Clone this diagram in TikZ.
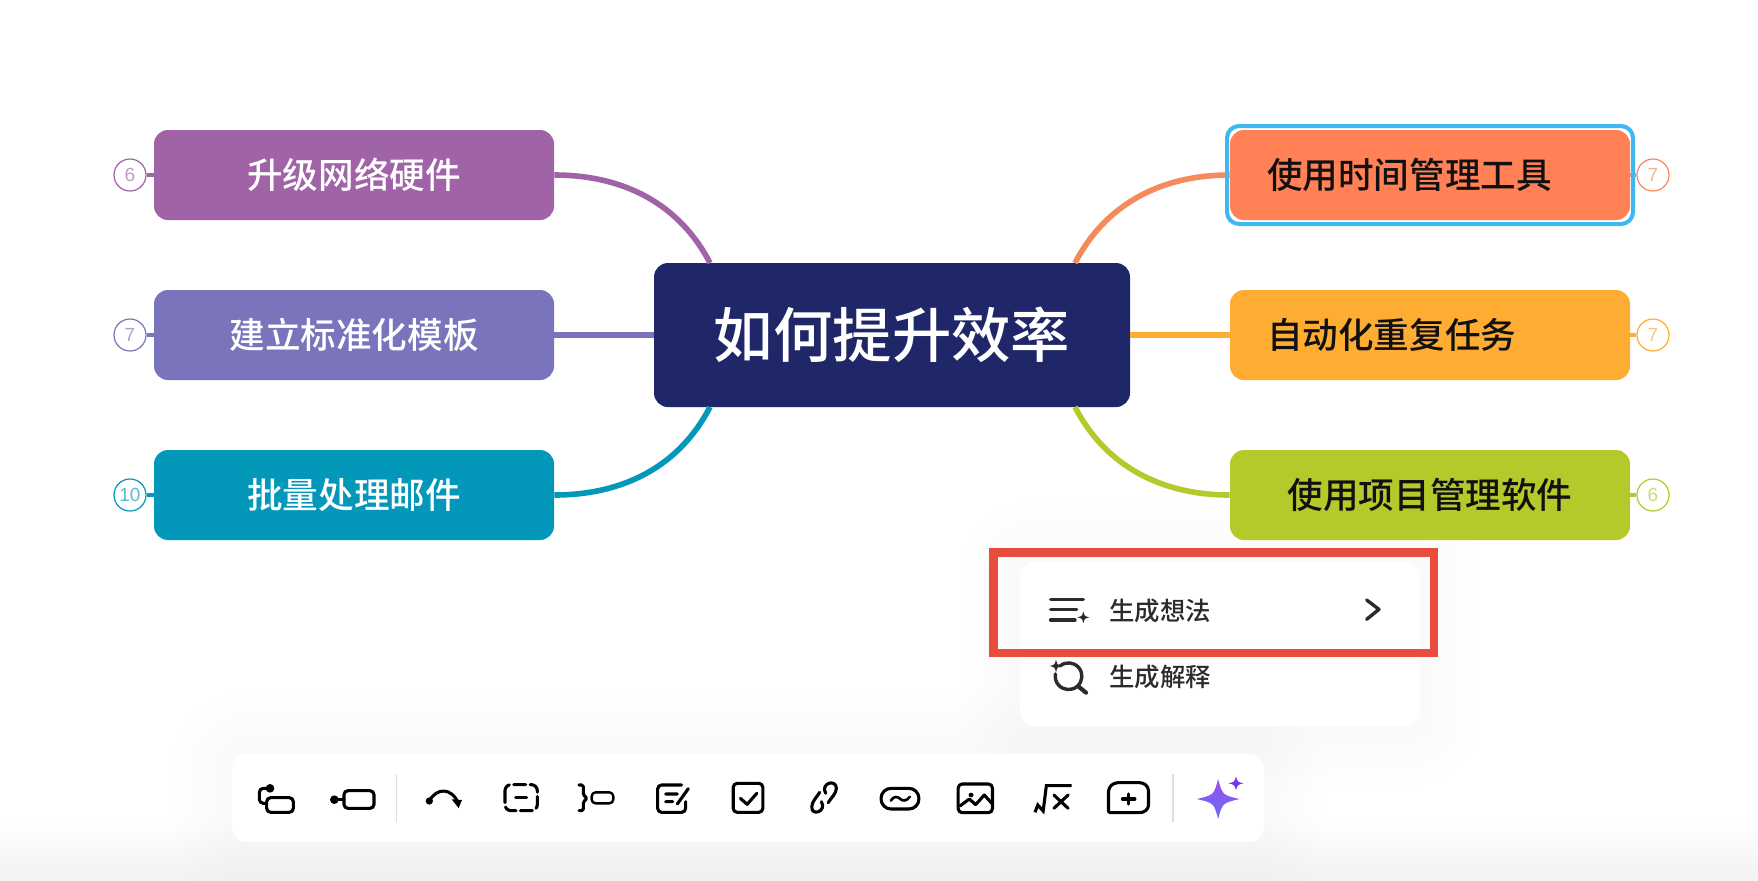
\documentclass[tikz,border=0pt]{standalone}
\usepackage{fontspec}
\setmainfont{Noto Sans CJK SC Medium}
\newfontfamily\menufont{Noto Sans CJK SC Medium}
\newfontfamily\numfont{Liberation Sans}
\definecolor{cPurple}{HTML}{A163A8}
\definecolor{cIndigo}{HTML}{7A74BC}
\definecolor{cTeal}{HTML}{0398BA}
\definecolor{cOrange}{HTML}{FF8155}
\definecolor{cBranchO}{HTML}{F58A5C}
\definecolor{cAmber}{HTML}{FFAC33}
\definecolor{cLime}{HTML}{B5C92B}
\definecolor{cNavy}{HTML}{1F2768}
\definecolor{cSel}{HTML}{3DB8F0}
\definecolor{cRed}{HTML}{E74C3C}
\definecolor{cInk}{HTML}{111111}
\definecolor{cMenu}{HTML}{2B2B2B}
\definecolor{cSep}{HTML}{DEDEDE}
\definecolor{cStarT}{HTML}{9B4DF0}
\definecolor{cStarB}{HTML}{6A6EF5}
\definecolor{cStarS}{HTML}{7038F0}
\newcommand{\starpath}[3]{(#1,#2-#3) .. controls (#1+0.2*#3,#2-0.2*#3) .. (#1+#3,#2) .. controls (#1+0.2*#3,#2+0.2*#3) .. (#1,#2+#3) .. controls (#1-0.2*#3,#2+0.2*#3) .. (#1-#3,#2) .. controls (#1-0.2*#3,#2-0.2*#3) .. cycle}
\newcommand{\softshadow}[4]{%
  \foreach \i in {1,...,5}{
    \fill[black,opacity=0.004,rounded corners={(7+6*\i)*1pt}]
      (#1-12*\i,#2-12*\i) rectangle (#3+12*\i,#4+12*\i);
  }}
\tikzset{
  topic/.style={rounded corners=7pt,minimum width=200pt,minimum height=45pt,inner sep=0pt,font=\fontsize{17.8}{20}\selectfont,text=white},
  lefttopic/.style={topic,align=center},
  righttopic/.style={topic,text=cInk,text width=163pt,inner xsep=18.5pt,inner ysep=0pt},
  rootnode/.style={rounded corners=7pt,fill=cNavy,minimum width=238pt,minimum height=72pt,inner sep=0pt,text=white,font=\fontsize{29.7}{32}\selectfont},
  badge/.style={circle,draw=#1,fill=white,line width=0.6pt,minimum size=16pt,inner sep=0pt,text=#1!65!white,font=\numfont\fontsize{9.5}{10}\selectfont},
  branch/.style={line width=2.8pt,line cap=butt},
  stub/.style={line width=1.6pt},
  panel/.style={fill=white,rounded corners=7pt,inner sep=0pt},
  menutext/.style={text=cMenu,font=\menufont\fontsize{12.7}{14}\selectfont,anchor=west,inner sep=0pt},
  ic/.style={line width=1.55pt,line cap=round,line join=round,draw=black},
  micon/.style={line width=1.7pt,line cap=round,line join=round,draw=cMenu},
  sepline/.style={draw=cSep,line width=0.8pt}
}
\begin{document}
\begin{tikzpicture}[x=0.5pt,y=-0.5pt]
\useasboundingbox (0,0) rectangle (1758,880);
\fill[white] (0,0) rectangle (1758,880);
\shade[top color=white,bottom color=black!5] (0,820) rectangle (1758,880);

\coordinate (tl) at (710,263);
\coordinate (ml) at (654,335);
\coordinate (bl) at (710,407);
\coordinate (tr) at (1075,263);
\coordinate (mr) at (1130,335);
\coordinate (br) at (1075,407);

% shadows first
\softshadow{1020}{562}{1420}{726}
\softshadow{232}{754}{1264}{842}

% root
\node[rootnode] (root) at (892,335) {如何提升效率};

% left topics
\node[lefttopic,fill=cPurple] (a1) at (354,175) {升级网络硬件};
\node[lefttopic,fill=cIndigo] (a2) at (354,335) {建立标准化模板};
\node[lefttopic,fill=cTeal]   (a3) at (354,495) {批量处理邮件};
% right topics
\node[righttopic,fill=cOrange,align=left] (b1) at (1430,175) {使用时间管理工具};
\node[righttopic,fill=cAmber,align=left]  (b2) at (1430,335) {自动化重复任务};
\node[righttopic,fill=cLime,align=center] (b3) at (1430,495) {使用项目管理软件};

% branches
\draw[branch,cPurple] (a1.east) .. controls (625,175) and (680,205) .. (tl);
\draw[branch,cIndigo] (a2.east) -- (ml);
\draw[branch,cTeal]   (a3.east) .. controls (625,495) and (680,465) .. (bl);
\draw[branch,cBranchO] (b1.west) .. controls (1160,175) and (1105,205) .. (tr);
\draw[branch,cAmber]  (b2.west) -- (mr);
\draw[branch,cLime]   (b3.west) .. controls (1160,495) and (1105,465) .. (br);

% badges
\node[badge=cPurple] (n1) at (130,175) {6};
\node[badge=cIndigo] (n2) at (130,335) {7};
\node[badge=cTeal]   (n3) at (130,495) {10};
\node[badge=cBranchO] (n4) at (1653,175) {7};
\node[badge=cAmber]  (n5) at (1653,335) {7};
\node[badge=cLime]   (n6) at (1653,495) {6};
\draw[stub,cPurple] (n1) -- (a1);
\draw[stub,cIndigo] (n2) -- (a2);
\draw[stub,cTeal]   (n3) -- (a3);
\draw[stub,cBranchO] (n4) -- (b1);
\draw[stub,cAmber]  (n5) -- (b2);
\draw[stub,cLime]   (n6) -- (b3);

% selection frame
\draw[cSel,line width=2pt,rounded corners=6pt] (1227,126) rectangle (1633,224);

% menu card
\node[panel,minimum width=200pt,minimum height=82pt] (menu) at (1220,644) {};
\node[menutext] (m1) at (1109,611) {生成想法};
\node[menutext] (m2) at (1109,677) {生成解释};
\begin{scope}[shift={(980,540)},x=0.5pt/3,y=-0.5pt/3]
  \draw[micon] (212,178) -- (310,178) (212,208) -- (290,208) (212,240) -- (285,240);
  \fill[cMenu] \starpath{310}{232}{18};
  \draw[micon] (1160,180) -- (1197,208) -- (1160,238);
  \draw[micon] (240,378) arc[start angle=-130,end angle=190,radius=40,x radius=40,y radius=40] ;
  \draw[micon,line width=2.1pt] (296,440) -- (318,458);
  \fill[cMenu] \starpath{228}{378}{19};
\end{scope}
% red highlight
\draw[cRed,line width=4.25pt] (993.25,552.25) rectangle (1433.75,652.75);

% toolbar
\node[panel,minimum width=516pt,minimum height=44pt] (bar) at (748,798) {};
\begin{scope}[shift={(220,740)},x=0.5pt/3,y=-0.5pt/3]
  % icon 1
  \fill (150,145) circle[radius=13];
  \draw[ic,rounded corners=2pt] (150,145) -- (118,145) -- (118,190) -- (140,190);
  \draw[ic,rounded corners=2pt] (140,173) rectangle (220,217);
  % icon 2
  \fill (343,179) circle[radius=13];
  \draw[ic] (343,179) -- (372,179);
  \draw[ic,rounded corners=2pt] (372,152) rectangle (462,205);
  \draw[sepline] (530,102) -- (530,245);
  % icon 3
  \fill (628,183) circle[radius=11];
  \draw[ic] (628,183) .. controls (650,142) and (695,142) .. (715,190);
  \fill (695,178) -- (726,180) -- (716,204) -- cycle;
  % icon 4
  \draw[ic,rounded corners=3pt,dash pattern=on 6pt off 2.2pt] (855,134) rectangle (952,212);
  \draw[ic] (887,173) -- (920,173);
  % icon 5
  \draw[ic,rounded corners=0.8pt] (1077,135) -- (1090,135) -- (1090,165) -- (1102,175) -- (1090,185) -- (1090,212) -- (1077,212);
  \draw[ic,line width=1.2pt,rounded corners=2pt] (1115,157) rectangle (1180,190);
  % icon 6
  \draw[ic,rounded corners=2pt] (1385,135) -- (1313,135) -- (1313,217) -- (1397,217) -- (1397,185);
  \draw[ic] (1337,162) -- (1372,162) (1337,185) -- (1358,185) (1372,192) -- (1405,146);
\end{scope}
\begin{scope}[shift={(720,740)},x=0.5pt/2.8,y=-0.5pt/3]
  % checkbox
  \draw[ic,rounded corners=2pt] (37,130) rectangle (120,217);
  \draw[ic] (57,175) -- (76,193) -- (103,160);
  % link
  \draw[ic] (296,160) .. controls (280,130) and (325,115) .. (326,145) .. controls (326,160) and (310,175) .. (303,188);
  \draw[ic] (284,185) .. controls (300,215) and (255,230) .. (257,200) .. controls (257,185) and (272,170) .. (279,157);
  % oval with wave
  \draw[ic,rounded corners=5pt] (451,145) rectangle (557,207);
  \draw[ic,line width=1.3pt] (478,182) .. controls (488,166) and (498,170) .. (505,177) .. controls (512,184) and (522,184) .. (532,170);
  % image
  \draw[ic,rounded corners=2pt] (667,132) rectangle (763,218);
  \fill (703,165) circle[radius=7];
  \draw[ic] (672,198) -- (698,177) -- (716,194) -- (740,165) -- (763,192);
  % sqrt x
  \draw[ic,line cap=butt,line join=miter] (882,217) -- (890,195) -- (905,213) -- (914,137) -- (985,137);
  \draw[ic] (935,165) -- (975,205) (975,165) -- (935,205);
  % add box
  \draw[ic] (1115,128) -- (1175,128) arc[start angle=-90,end angle=0,x radius=25,y radius=25] -- (1200,195) arc[start angle=0,end angle=90,x radius=25,y radius=23] -- (1092,218) -- (1088,214) -- (1088,155) arc[start angle=180,end angle=270,x radius=27,y radius=27] -- cycle;
  \draw[ic] (1127,177) -- (1162,177) (1145,162) -- (1145,192);
  \draw[sepline] (1268,102) -- (1268,245);
  % spark
  \shade[top color=cStarT,bottom color=cStarB] \starpath{1395}{177}{60};
  \fill[cStarS] \starpath{1445}{130}{21};
\end{scope}
\end{tikzpicture}
\end{document}
